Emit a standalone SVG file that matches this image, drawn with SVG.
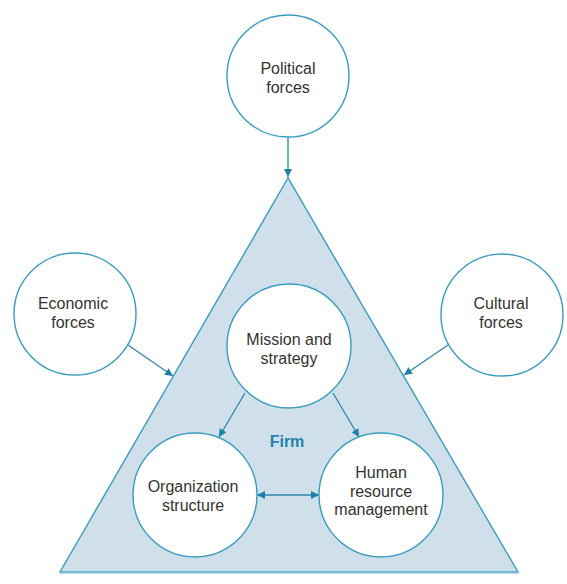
<svg xmlns="http://www.w3.org/2000/svg" width="567" height="584" viewBox="0 0 567 584">
<style>
.node circle{fill:#fff;stroke:#3a9cc0;stroke-width:1.4}
.lbl{font-family:"Liberation Sans",Arial,sans-serif;font-size:16px;fill:#333;text-anchor:middle}
.conn line{stroke:#2a86ad;stroke-width:1.3;fill:none}
.firm{font-family:"Liberation Sans",Arial,sans-serif;font-size:16px;font-weight:bold;fill:#1f82ad;text-anchor:middle}
</style>
<defs>
<marker id="ah" viewBox="0 0 10 10" refX="10" refY="5" markerWidth="8" markerHeight="8" markerUnits="userSpaceOnUse" orient="auto-start-reverse">
<path d="M0,0 L10,5 L0,10 z" fill="#1f7fa6"/>
</marker>
</defs>
<rect width="567" height="584" fill="#fff"/>
<g id="firm">
<polygon points="288,178 60,572 518,572" fill="#cfe0ea" stroke="#3a9cc0" stroke-width="1.4"/>
<line x1="60" y1="572.5" x2="518" y2="572.5" stroke="#7fbcd6" stroke-width="2"/>
<text class="firm" x="287" y="447">Firm</text>
</g>
<g class="conn" id="connectors">
<line x1="288" y1="137" x2="288" y2="177" marker-end="url(#ah)"/>
<line x1="128" y1="345" x2="173" y2="376" marker-end="url(#ah)"/>
<line x1="448" y1="345" x2="404" y2="375" marker-end="url(#ah)"/>
<line x1="245" y1="393" x2="219" y2="437" marker-end="url(#ah)"/>
<line x1="333" y1="393" x2="359" y2="437" marker-end="url(#ah)"/>
<line x1="257" y1="495" x2="319" y2="495" marker-start="url(#ah)" marker-end="url(#ah)"/>
</g>
<g class="node" id="political">
<circle cx="288" cy="76" r="61"/>
<text class="lbl" x="288" y="74">Political</text>
<text class="lbl" x="288" y="93">forces</text>
</g>
<g class="node" id="economic">
<circle cx="75" cy="314" r="61"/>
<text class="lbl" x="73" y="309">Economic</text>
<text class="lbl" x="73" y="328">forces</text>
</g>
<g class="node" id="cultural">
<circle cx="502" cy="315" r="61"/>
<text class="lbl" x="501" y="309">Cultural</text>
<text class="lbl" x="501" y="328">forces</text>
</g>
<g class="node" id="mission">
<circle cx="289" cy="346" r="62"/>
<text class="lbl" x="289" y="345">Mission and</text>
<text class="lbl" x="289" y="364">strategy</text>
</g>
<g class="node" id="organization">
<circle cx="195" cy="495" r="62"/>
<text class="lbl" x="193" y="492">Organization</text>
<text class="lbl" x="193" y="511">structure</text>
</g>
<g class="node" id="hrm">
<circle cx="381" cy="495" r="62"/>
<text class="lbl" x="381" y="478">Human</text>
<text class="lbl" x="381" y="497">resource</text>
<text class="lbl" x="381" y="515">management</text>
</g>
</svg>
